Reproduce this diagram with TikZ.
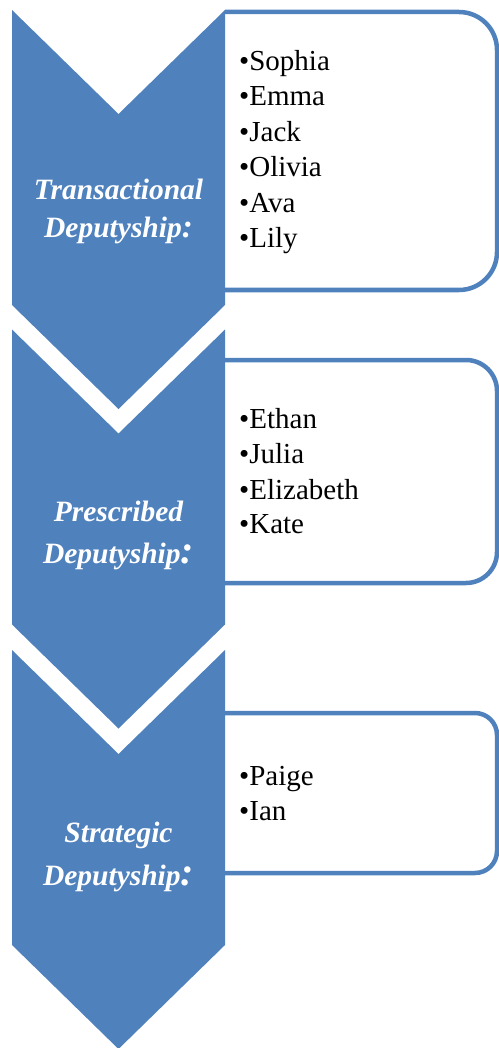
\documentclass[tikz,border=0pt]{standalone}
\usepackage{fontspec}
\setmainfont{Liberation Serif}
\definecolor{chev}{HTML}{4F81BD}
\begin{document}
\begin{tikzpicture}[x=1pt,y=-1pt,
  chevron/.style={fill=chev,draw=none},
  listbox/.style={draw=chev,line width=4.5pt},
  lbl/.style={text=white,font=\fontsize{29.5}{35}\selectfont\bfseries\itshape,inner sep=0,anchor=base},
  item/.style={font=\fontsize{29}{35}\selectfont,inner sep=0,anchor=base west}]
\useasboundingbox (0,0) rectangle (498,1048);
% list boxes (behind the chevrons)
\draw[listbox,rounded corners=38] (225,12) -- (497,12) -- (497,290) -- (225,290);
\draw[listbox,rounded corners=31] (225,360) -- (497,360) -- (497,583) -- (225,583);
\draw[listbox,rounded corners=22] (225,713) -- (497,713) -- (497,873) -- (225,873);
% chevrons
\fill[chevron] (12,10) -- (118.5,114) -- (225,10) -- (225,305) -- (118.5,409) -- (12,305) -- cycle;
\fill[chevron] (12,329.5) -- (118.5,433.5) -- (225,329.5) -- (225,624.5) -- (118.5,728.5) -- (12,624.5) -- cycle;
\fill[chevron] (12,650) -- (118.5,754) -- (225,650) -- (225,945) -- (118.5,1049) -- (12,945) -- cycle;
% labels
\node[lbl] (t1) at (118.5,200) {Transactional};
\node[lbl] (d1) at (118.5,238) {Deputyship{\fontsize{33}{35}\selectfont:}};
\node[lbl] (t2) at (118.5,521) {Prescribed};
\node[lbl] (d2) at (118.5,563) {Deputyship{\fontsize{40}{40}\selectfont:}};
\node[lbl] (t3) at (118.5,842) {Strategic};
\node[lbl] (d3) at (118.5,885) {Deputyship{\fontsize{40}{40}\selectfont:}};
% lists
\node[item] (a1) at (239,71) {•Sophia};
\node[item] (a2) at (239,106) {•Emma};
\node[item] (a3) at (239,142) {•Jack};
\node[item] (a4) at (239,177) {•Olivia};
\node[item] (a5) at (239,213) {•Ava};
\node[item] (a6) at (239,248) {•Lily};
\node[item] (b1) at (239,428) {•Ethan};
\node[item] (b2) at (239,463) {•Julia};
\node[item] (b3) at (239,499) {•Elizabeth};
\node[item] (b4) at (239,533) {•Kate};
\node[item] (c1) at (239,785) {•Paige};
\node[item] (c2) at (239,820) {•Ian};
\end{tikzpicture}
\end{document}
